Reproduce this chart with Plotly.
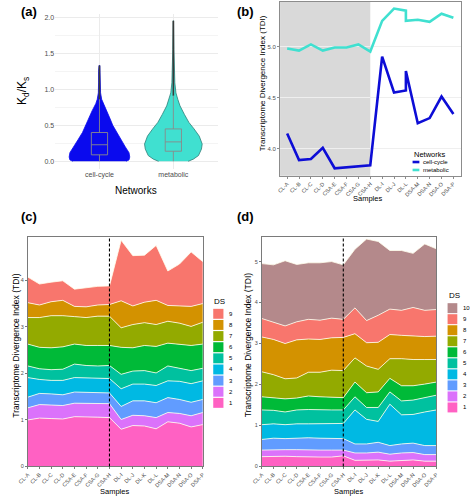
import plotly.graph_objects as go

W, H = 471, 500
FONT = "Liberation Sans, Arial, sans-serif"

# ---------------- data ----------------
networks = ["cell-cycle", "metabolic"]
net_colors = ["#0A0AEE", "#40E0D0"]
net_line_colors = ["#0A0AEE", "#2F7F78"]

# violin outlines: y levels and half widths (category units)
cc_vy = [0.0, 0.02, 0.06, 0.12, 0.2, 0.3, 0.4, 0.5, 0.6, 0.7, 0.8, 0.86, 0.95, 1.1, 1.25, 1.33]
cc_vw = [0.36, 0.40, 0.41, 0.40, 0.35, 0.29, 0.23, 0.18, 0.14, 0.10, 0.05, 0.03, 0.015, 0.012, 0.012, 0.005]
met_vy = [0.0, 0.03, 0.08, 0.17, 0.24, 0.35, 0.45, 0.54, 0.65, 0.77, 0.86, 0.95, 1.09, 1.32, 1.55, 1.95]
met_vw = [0.20, 0.27, 0.34, 0.38, 0.39, 0.35, 0.28, 0.21, 0.15, 0.09, 0.06, 0.035, 0.02, 0.012, 0.008, 0.003]

# box statistics
box_q1 = [0.09, 0.14]
box_median = [0.23, 0.27]
box_q3 = [0.40, 0.45]
box_low = [0.0, 0.0]
box_up = [0.86, 0.91]
box_max = [1.33, 1.95]

# panel (b)
b_samples = ["CL-A", "CL-B", "CL-C", "CL-D", "CSA-E", "CSA-F", "CSA-G", "CSA-H",
             "DL-I", "DL-J", "DL-L", "DSA-M", "DSA-N", "DSA-O", "DSA-P"]
b_x = ["CL-A", "CL-B", "CL-C", "CL-D", "CSA-E", "CSA-F", "CSA-G", "CSA-H",
       "DL-I", "DL-J", "DL-L", "DL-L", "DSA-M", "DSA-N", "DSA-O", "DSA-P"]
b_cellcycle = [4.15, 3.89, 3.90, 4.01, 3.81, 3.82, 3.83, 3.84, 4.90, 4.55, 4.57, 4.76, 4.25, 4.30, 4.51, 4.34]
b_metabolic = [4.98, 4.96, 5.02, 4.96, 4.99, 4.99, 5.02, 4.95, 5.25, 5.37, 5.35, 5.25, 5.26, 5.24, 5.32, 5.28]

# panels (c) and (d)
samples = ["CL-A", "CL-B", "CL-C", "CL-D", "CSA-E", "CSA-F", "CSA-G", "CSA-H",
           "DL-I", "DL-J", "DL-K", "DL-L", "DSA-M", "DSA-N", "DSA-O", "DSA-P"]
split_sample = "CSA-H"

c_ds1 = [1.00, 1.04, 1.03, 1.02, 1.07, 1.07, 1.06, 1.05, 0.80, 0.88, 0.87, 0.81, 0.96, 0.93, 0.85, 0.90]
c_ds2 = [0.26, 0.29, 0.29, 0.29, 0.29, 0.29, 0.29, 0.30, 0.21, 0.22, 0.22, 0.24, 0.20, 0.21, 0.24, 0.26]
c_ds3 = [0.23, 0.24, 0.24, 0.23, 0.24, 0.23, 0.24, 0.23, 0.28, 0.31, 0.32, 0.32, 0.32, 0.30, 0.29, 0.28]
c_ds4 = [0.42, 0.30, 0.29, 0.31, 0.31, 0.31, 0.30, 0.31, 0.38, 0.36, 0.36, 0.37, 0.36, 0.39, 0.40, 0.40]
c_ds5 = [0.25, 0.23, 0.23, 0.24, 0.29, 0.27, 0.27, 0.28, 0.31, 0.28, 0.29, 0.27, 0.32, 0.28, 0.28, 0.27]
c_ds6 = [0.47, 0.46, 0.47, 0.48, 0.43, 0.43, 0.44, 0.43, 0.58, 0.50, 0.54, 0.57, 0.49, 0.52, 0.54, 0.52]
c_ds7 = [0.57, 0.64, 0.69, 0.67, 0.59, 0.60, 0.63, 0.63, 0.42, 0.50, 0.49, 0.47, 0.47, 0.45, 0.41, 0.47]
c_ds8 = [0.32, 0.27, 0.30, 0.33, 0.22, 0.23, 0.24, 0.25, 0.58, 0.40, 0.44, 0.52, 0.34, 0.37, 0.43, 0.40]
c_ds9 = [0.55, 0.45, 0.42, 0.42, 0.37, 0.41, 0.40, 0.40, 1.30, 1.08, 1.01, 1.18, 0.74, 0.90, 1.17, 0.90]

d_ds1 = [0.24, 0.25, 0.25, 0.24, 0.23, 0.23, 0.23, 0.26, 0.15, 0.16, 0.16, 0.13, 0.15, 0.16, 0.13, 0.13]
d_ds2 = [0.16, 0.16, 0.16, 0.17, 0.17, 0.17, 0.17, 0.14, 0.18, 0.17, 0.19, 0.17, 0.18, 0.18, 0.16, 0.16]
d_ds3 = [0.26, 0.28, 0.27, 0.28, 0.30, 0.29, 0.28, 0.28, 0.22, 0.22, 0.24, 0.21, 0.22, 0.23, 0.22, 0.22]
d_ds4 = [0.36, 0.35, 0.34, 0.35, 0.34, 0.35, 0.36, 0.37, 0.83, 0.60, 0.51, 1.01, 0.71, 0.70, 0.82, 0.87]
d_ds5 = [0.36, 0.33, 0.31, 0.34, 0.35, 0.34, 0.34, 0.33, 0.32, 0.29, 0.34, 0.30, 0.34, 0.35, 0.35, 0.36]
d_ds6 = [0.32, 0.31, 0.32, 0.29, 0.33, 0.32, 0.31, 0.30, 0.36, 0.36, 0.38, 0.33, 0.37, 0.35, 0.33, 0.32]
d_ds7 = [0.61, 0.56, 0.49, 0.49, 0.58, 0.60, 0.66, 0.66, 0.59, 0.65, 0.55, 0.48, 0.66, 0.64, 0.60, 0.55]
d_ds8 = [0.85, 0.86, 0.86, 0.93, 0.81, 0.80, 0.79, 0.81, 0.59, 0.57, 0.66, 0.59, 0.57, 0.57, 0.56, 0.57]
d_ds9 = [0.45, 0.42, 0.43, 0.44, 0.48, 0.47, 0.48, 0.44, 0.63, 0.54, 0.66, 0.62, 0.61, 0.70, 0.64, 0.65]
d_ds10 = [1.34, 1.40, 1.59, 1.40, 1.38, 1.40, 1.38, 1.33, 1.43, 1.99, 1.80, 1.43, 1.46, 1.32, 1.62, 1.48]

ds_labels_c = ["1", "2", "3", "4", "5", "6", "7", "8", "9"]
ds_labels_d = ["1", "2", "3", "4", "5", "6", "7", "8", "9", "10"]
ds_colors = ["#FF61C3", "#DB72FB", "#619CFF", "#00B9E3", "#00C19F",
             "#00BA38", "#93AA00", "#D39200", "#F8766D", "#B4898B"]

c_layers = [c_ds1, c_ds2, c_ds3, c_ds4, c_ds5, c_ds6, c_ds7, c_ds8, c_ds9]
d_layers = [d_ds1, d_ds2, d_ds3, d_ds4, d_ds5, d_ds6, d_ds7, d_ds8, d_ds9, d_ds10]


def px(x):
    return x / W


def py(y):
    return 1 - y / H


fig = go.Figure()

# ---------------- panel (a) ----------------
BOX_HW = 0.11
for i, (vy, vw) in enumerate([(cc_vy, cc_vw), (met_vy, met_vw)]):
    xs = [i + w for w in vw] + [i - w for w in reversed(vw)]
    ys = list(vy) + list(reversed(vy))
    fig.add_trace(go.Scatter(x=xs, y=ys, fill="toself", fillcolor=net_colors[i],
                             line=dict(color=net_line_colors[i], width=0.8),
                             mode="lines", xaxis="x", yaxis="y", showlegend=False,
                             hoverinfo="skip"))
    # outlier tail
    fig.add_trace(go.Scatter(x=[i, i], y=[box_up[i], box_max[i]], mode="lines",
                             line=dict(color="#3A3A3A", width=1.6),
                             xaxis="x", yaxis="y", showlegend=False))
    # box (drawn as lines so it sits above the violin)
    bx = [i - BOX_HW, i + BOX_HW, i + BOX_HW, i - BOX_HW, i - BOX_HW, None,
          i - BOX_HW, i + BOX_HW, None, i, i, None, i, i]
    by = [box_q1[i], box_q1[i], box_q3[i], box_q3[i], box_q1[i], None,
          box_median[i], box_median[i], None, box_low[i], box_q1[i], None,
          box_q3[i], box_up[i]]
    fig.add_trace(go.Scatter(x=bx, y=by, mode="lines",
                             line=dict(color="#8A8A8A", width=0.9),
                             xaxis="x", yaxis="y", showlegend=False))

# ---------------- panel (b) ----------------
b_line_colors = ["#0D0DD6", "#40E0D0"]
for name, vals, col in [("cell-cycle", b_cellcycle, b_line_colors[0]),
                        ("metabolic", b_metabolic, b_line_colors[1])]:
    fig.add_trace(go.Scatter(x=b_x, y=vals, mode="lines", name=name,
                             line=dict(color=col, width=2.6),
                             xaxis="x2", yaxis="y2", showlegend=False))

# ---------------- panels (c), (d) ----------------
for k, vals in enumerate(c_layers):
    fig.add_trace(go.Scatter(x=samples, y=vals, stackgroup="c", mode="lines",
                             line=dict(color="#FFFFEE", width=0.8),
                             fillcolor=ds_colors[k], xaxis="x3", yaxis="y3",
                             showlegend=False))
for k, vals in enumerate(d_layers):
    fig.add_trace(go.Scatter(x=samples, y=vals, stackgroup="d", mode="lines",
                             line=dict(color="#FFFFEE", width=0.8),
                             fillcolor=ds_colors[k], xaxis="x4", yaxis="y4",
                             showlegend=False))

tickfont_s = dict(family=FONT, size=5.5, color="#4D4D4D")
split_idx = samples.index(split_sample)
b_split_idx = b_samples.index(split_sample)

frame_cd = dict(showgrid=False, zeroline=False, showline=True, mirror=True,
                linecolor="#7A7A7A", linewidth=1, ticks="outside", ticklen=2,
                tickcolor="#7A7A7A", tickfont=tickfont_s)

layout = dict(
    width=W, height=H, margin=dict(l=0, r=0, t=0, b=0),
    paper_bgcolor="white", plot_bgcolor="rgba(0,0,0,0)",
    font=dict(family=FONT),
    xaxis=dict(domain=[px(46.4), px(213.6)], range=[-0.6, 1.6], tickvals=[0, 1],
               ticktext=networks, showgrid=True, gridcolor="#EBEBEB", gridwidth=0.8,
               zeroline=False, showline=False, ticks="",
               tickfont=dict(family=FONT, size=7, color="#4D4D4D"), anchor="y"),
    yaxis=dict(domain=[py(169.55), py(13.7)], range=[-0.1, 2.05],
               tickvals=[0, 0.5, 1, 1.5, 2], ticktext=["0.0", "0.5", "1.0", "1.5", "2.0"],
               showgrid=True, gridcolor="#EBEBEB", gridwidth=0.8, zeroline=False,
               ticks="", ticklen=0,
               minor=dict(tickvals=[0.25, 0.75, 1.25, 1.75], showgrid=True,
                          gridcolor="#F4F4F4", gridwidth=0.6),
               tickfont=dict(family=FONT, size=7, color="#4D4D4D"), anchor="x"),
    xaxis2=dict(domain=[px(277.7), px(463.3)], type="category", categoryorder="array",
                categoryarray=b_samples, range=[-0.6, len(b_samples) - 0.4],
                tickangle=-45, tickfont=tickfont_s, showgrid=False, zeroline=False,
                showline=True, mirror=True, linecolor="#8C8C8C", linewidth=1,
                ticks="outside", ticklen=2, tickcolor="#8C8C8C", anchor="y2"),
    yaxis2=dict(domain=[py(176.7), py(1.7)], range=[3.738, 5.437],
                tickvals=[4.0, 4.5, 5.0], ticktext=["4.0", "4.5", "5.0"],
                tickfont=dict(family=FONT, size=6, color="#4D4D4D"),
                showgrid=True, gridcolor="#EFEFEF", gridwidth=0.6,
                zeroline=False, showline=True, mirror=True, linecolor="#8C8C8C",
                linewidth=1, ticks="outside", ticklen=2, tickcolor="#8C8C8C", anchor="x2"),
    xaxis3=dict(domain=[px(18.3), px(198.3)], type="category", categoryorder="array",
                categoryarray=samples, range=[0, len(samples) - 1], tickangle=-45,
                anchor="y3", **frame_cd),
    yaxis3=dict(domain=[py(469.3), py(238)], range=[0, 4.94], tickvals=[0, 1, 2, 3, 4],
                anchor="x3", **frame_cd),
    xaxis4=dict(domain=[px(259), px(438.5)], type="category", categoryorder="array",
                categoryarray=samples, range=[0, len(samples) - 1], tickangle=-45,
                anchor="y4", **frame_cd),
    yaxis4=dict(domain=[py(469.3), py(238)], range=[0, 5.61], tickvals=[0, 1, 2, 3, 4, 5],
                anchor="x4", **frame_cd),
)
fig.update_layout(**layout)

shapes = []
annotations = []

# grey region in (b)
shapes.append(dict(type="rect", xref="x2", yref="y2 domain", x0=-0.6, x1=b_split_idx,
                   y0=0, y1=1, fillcolor="#D9D9D9", line=dict(width=0), layer="below"))
# dashed lines in (c), (d)
for xr, yr in [("x3", "y3 domain"), ("x4", "y4 domain")]:
    shapes.append(dict(type="line", xref=xr, yref=yr, x0=split_idx, x1=split_idx,
                       y0=0, y1=1, line=dict(color="black", width=1.1, dash="3px,2px"),
                       layer="above"))


def ann(text, x, y, size, color="black", angle=0, bold=False, xanchor="center",
        yanchor="middle"):
    annotations.append(dict(text=f"<b>{text}</b>" if bold else text,
                            x=px(x), y=py(y), xref="paper", yref="paper",
                            showarrow=False, textangle=angle, xanchor=xanchor,
                            yanchor=yanchor,
                            font=dict(family=FONT, size=size, color=color)))


# panel labels
ann("(a)", 20, 12, 13, bold=True)
ann("(b)", 242, 12, 13, bold=True)
ann("(c)", 20, 218, 13, bold=True)
ann("(d)", 242, 218, 13, bold=True)

# axis titles
ann("K<sub>d</sub>/K<sub>s</sub>", 14, 92, 12, angle=-90)
ann("Networks", 130, 192, 10)
ann("Transcriptome Divergence Index (TDI)", 260, 84, 8, angle=-90)
ann("Samples", 368, 200, 7.5)
ann("Transcriptome Divergence Index (TDI)", 6, 348, 8.5, angle=-90)
ann("Samples", 107, 494.5, 7.5)
ann("Transcriptome Divergence Index (TDI)", 245, 347, 8.5, angle=-90)
ann("Samples", 348, 494.5, 7.5)

# legend (b)
ann("Networks", 413, 155, 7.5, xanchor="left")
for i, name in enumerate(networks):
    yy = 163 + 8 * i
    shapes.append(dict(type="line", xref="paper", yref="paper", x0=px(414), x1=px(421),
                       y0=py(yy), y1=py(yy), line=dict(color=b_line_colors[i], width=2.6)))
    ann(name, 423, yy, 6, xanchor="left")

# legend (c)
ann("DS", 208, 303, 8, xanchor="left")
for j, lab in enumerate(reversed(ds_labels_c)):
    k = len(ds_labels_c) - 1 - j
    yc = 315.7 + 11.2 * j
    shapes.append(dict(type="rect", xref="paper", yref="paper", x0=px(209), x1=px(219.5),
                       y0=py(yc + 5), y1=py(yc - 5), fillcolor=ds_colors[k],
                       line=dict(width=0)))
    ann(lab, 223, yc, 6, xanchor="left")

# legend (d)
ann("DS", 449, 297, 8, xanchor="left")
for j, lab in enumerate(reversed(ds_labels_d)):
    k = len(ds_labels_d) - 1 - j
    yc = 310 + 11.1 * j
    shapes.append(dict(type="rect", xref="paper", yref="paper", x0=px(450), x1=px(460),
                       y0=py(yc + 5), y1=py(yc - 5), fillcolor=ds_colors[k],
                       line=dict(width=0)))
    ann(lab, 464, yc, 6, xanchor="left")

fig.update_layout(shapes=shapes, annotations=annotations)
fig.write_html("out.html", config={"responsive": False, "displayModeBar": False},
               post_script="document.body.style.margin='0';"
                           "document.body.style.overflow='hidden';"
                           "document.documentElement.style.overflow='hidden';")
